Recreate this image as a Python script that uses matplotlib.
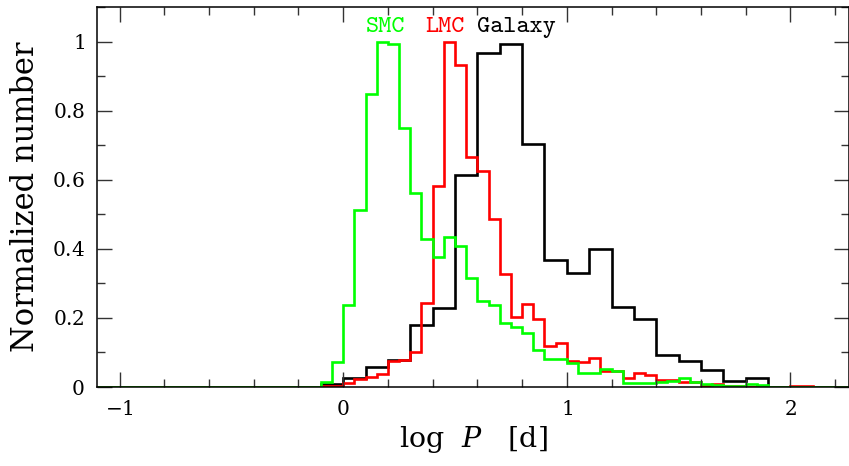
import numpy as np
import matplotlib
matplotlib.use('Agg')
import matplotlib.pyplot as plt
from matplotlib.ticker import MultipleLocator, FuncFormatter

plt.rcParams['mathtext.fontset'] = 'dejavuserif'
plt.rcParams['font.family'] = 'serif'
plt.rcParams['font.serif'] = ['DejaVu Serif']

# log P histograms, normalized to peak; bin edges start at -0.1
SMC_BIN = 0.05
SMC = [0.015, 0.073, 0.236, 0.513, 0.849, 1.0, 0.993, 0.75, 0.561, 0.428,
       0.376, 0.434, 0.409, 0.315, 0.248, 0.236, 0.185, 0.173, 0.156, 0.107,
       0.080, 0.080, 0.069, 0.040, 0.041, 0.051, 0.046, 0.012, 0.012, 0.013,
       0.015, 0.017, 0.027, 0.014, 0.010, 0.006, 0.003, 0.003, 0.008, 0.006]

LMC_BIN = 0.05
LMC = [0.002, 0.002, 0.012, 0.023, 0.030, 0.038, 0.075, 0.079, 0.100, 0.244,
       0.583, 1.0, 0.931, 0.667, 0.624, 0.485, 0.328, 0.202, 0.240, 0.198,
       0.118, 0.128, 0.075, 0.072, 0.083, 0.046, 0.046, 0.027, 0.040, 0.035,
       0.021, 0.021, 0.015, 0.015, 0.004, 0.010, 0.003, 0.003, 0.0, 0.0,
       0.0, 0.0, 0.004, 0.004]

GAL_BIN = 0.1
GALAXY = [0.008, 0.025, 0.058, 0.077, 0.179, 0.228, 0.613, 0.968, 0.994, 0.704,
          0.367, 0.331, 0.399, 0.231, 0.196, 0.094, 0.076, 0.050, 0.016, 0.026]

LABELS = [('SMC', 0.100, '#00ff00'), ('LMC', 0.368, '#ff0000'),
          ('Galaxy', 0.600, 'black')]

START = -0.1
XLIM = (-1.1, 2.26)
YLIM = (0.0, 1.1)


def padded(vals, width):
    """Pad a histogram with empty bins out to the plot range."""
    n_left = int(round((START - XLIM[0]) / width))
    n_right = int(np.ceil((XLIM[1] + width - START) / width)) - len(vals)
    v = np.concatenate([np.zeros(n_left), vals, np.zeros(max(n_right, 0))])
    edges = XLIM[0] + width * np.arange(len(v) + 1)
    return v, edges


fig = plt.figure(figsize=(8.49, 4.66), dpi=100)
ax = fig.add_axes([0.1145, 0.1695, 0.885, 0.8155])

for vals, width, color in [(GALAXY, GAL_BIN, 'black'),
                           (LMC, LMC_BIN, '#ff0000'),
                           (SMC, SMC_BIN, '#00ff00')]:
    v, e = padded(np.array(vals), width)
    ax.stairs(v, e, color=color, lw=1.9, baseline=None)

ax.set_xlim(*XLIM)
ax.set_ylim(*YLIM)

ax.xaxis.set_major_locator(MultipleLocator(1))
ax.xaxis.set_minor_locator(MultipleLocator(0.2))
ax.yaxis.set_major_locator(MultipleLocator(0.2))
ax.yaxis.set_minor_locator(MultipleLocator(0.1))
fmt = FuncFormatter(lambda v, p: '$%g$' % round(v, 3))
ax.xaxis.set_major_formatter(fmt)
ax.yaxis.set_major_formatter(fmt)

ax.tick_params(which='both', direction='in', top=True, right=True,
               labelsize=14.5, width=1.0, color='#333333')
ax.tick_params(which='major', length=11, pad=9)
ax.tick_params(which='minor', length=5.5)
for s in ax.spines.values():
    s.set_linewidth(1.1)

ax.set_xlabel(r'$\mathrm{log}\ \ P\ \ \ [\mathrm{d}]$', fontsize=20.5, labelpad=4)
ax.set_ylabel('Normalized number', fontsize=22, labelpad=8)

for name, xpos, color in LABELS:
    ax.text(xpos, 1.029, name, color=color, fontsize=18, family='cmtt10')

fig.savefig('out.png', dpi=100, facecolor='white')
